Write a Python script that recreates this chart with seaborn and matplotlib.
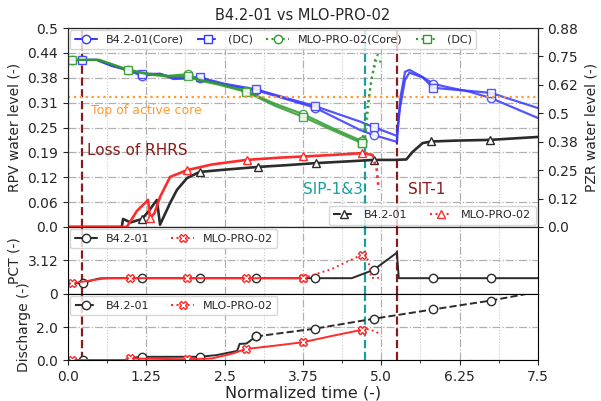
import numpy as np
import seaborn as sns
import matplotlib
matplotlib.use("Agg")
import matplotlib.pyplot as plt
from matplotlib.lines import Line2D
from matplotlib.ticker import MultipleLocator

# ---- data (normalized time / normalized values) ----
# RPV water level, B4.2-01
t_b_core = [0, 0.23, 0.46, 0.7, 0.94, 1.18, 1.47, 1.68, 2.1, 2.5, 3.0, 3.94, 4.66, 4.88, 5.25,
            5.3, 5.38, 5.45, 5.66, 5.83, 6.1, 6.41, 6.75, 7.5]
v_b_core = [0.42, 0.42, 0.42, 0.405, 0.395, 0.38, 0.385, 0.372, 0.374, 0.357, 0.344, 0.30, 0.244, 0.231, 0.214,
            0.32, 0.39, 0.395, 0.377, 0.36, 0.35, 0.34, 0.324, 0.274]
t_b_dc = [0, 0.23, 0.46, 0.7, 0.94, 1.18, 1.47, 1.68, 2.1, 2.5, 3.0, 3.94, 4.66, 4.88, 5.25,
          5.3, 5.38, 5.45, 5.66, 5.83, 6.1, 6.41, 6.75, 7.5]
v_b_dc = [0.42, 0.42, 0.42, 0.405, 0.395, 0.385, 0.385, 0.375, 0.376, 0.36, 0.346, 0.304, 0.265, 0.251, 0.229,
          0.30, 0.37, 0.388, 0.376, 0.35, 0.346, 0.342, 0.337, 0.299]
mark_b = [0.23, 1.18, 2.1, 3.0, 3.94, 4.88, 5.83, 6.75]

# RPV water level, MLO-PRO-02
t_m_core = [0, 0.06, 0.5, 0.96, 1.3, 1.6, 1.91, 2.1, 2.4, 2.84, 3.3, 3.75, 4.2, 4.69, 4.74, 4.82, 4.9, 5.0]
v_m_core = [0.42, 0.42, 0.42, 0.395, 0.385, 0.38, 0.384, 0.37, 0.36, 0.342, 0.31, 0.284, 0.25, 0.216,
            0.219, 0.344, 0.42, 0.415]
t_m_dc = [0, 0.06, 0.5, 0.96, 1.3, 1.6, 1.91, 2.1, 2.4, 2.84, 3.3, 3.75, 4.2, 4.69, 4.74, 4.85, 4.95]
v_m_dc = [0.42, 0.42, 0.42, 0.395, 0.383, 0.378, 0.38, 0.368, 0.358, 0.34, 0.305, 0.277, 0.245, 0.211,
          0.26, 0.377, 0.437]
mark_m = [0.06, 0.96, 1.91, 2.84, 3.75, 4.69]

# PZR water level
t_pzr_b = [0, 0.86, 0.88, 1.0, 1.18, 1.28, 1.42, 1.47, 1.63, 1.74, 1.9, 2.1, 2.5, 3.03, 3.5, 3.96,
           4.5, 4.88, 5.2, 5.4, 5.5, 5.66, 5.8, 6.2, 6.73, 7.5]
v_pzr_b = [0, 0, 0.035, 0.02, 0.035, 0.066, 0.119, 0.01, 0.105, 0.163, 0.215, 0.242, 0.252, 0.264, 0.272,
           0.281, 0.289, 0.295, 0.295, 0.297, 0.33, 0.369, 0.376, 0.38, 0.383, 0.396]
mark_pzr_b = [1.18, 2.1, 3.03, 3.96, 4.88, 5.8, 6.73]
t_pzr_m = [0, 0.94, 1.1, 1.28, 1.31, 1.38, 1.47, 1.63, 1.9, 2.3, 2.85, 3.38, 3.75, 4.3, 4.7, 4.86, 4.93, 4.96]
v_pzr_m = [0, 0, 0.07, 0.119, 0.04, 0.06, 0.132, 0.22, 0.25, 0.275, 0.295, 0.305, 0.31, 0.318, 0.325,
           0.317, 0.25, 0.163]
mark_pzr_m = [1.31, 1.9, 2.85, 3.75, 4.7]

# PCT
t_pct_b = [0, 0.24, 0.4, 0.51, 0.7, 1.18, 2.1, 3.0, 3.94, 4.53, 4.88, 5.25, 5.28, 5.82, 6.75, 7.5]
v_pct_b = [1.0, 1.0, 1.3, 1.45, 1.47, 1.47, 1.47, 1.47, 1.47, 1.47, 2.25, 3.85, 1.47, 1.47, 1.47, 1.47]
mark_pct_b = [0.24, 1.18, 2.1, 3.0, 3.94, 4.88, 5.82, 6.75]
t_pct_m = [0, 0.06, 0.3, 0.6, 0.99, 1.9, 2.84, 3.75, 4.2, 4.69, 4.74, 4.8, 4.84, 5.0]
v_pct_m = [1.0, 1.0, 1.2, 1.47, 1.47, 1.47, 1.47, 1.47, 2.3, 3.66, 3.75, 3.0, 1.5, 1.5]
mark_pct_m = [0.06, 0.99, 1.9, 2.84, 3.75, 4.69]

# Discharge
t_dis_b = [0, 0.24, 0.9, 1.05, 1.18, 2.1, 2.37, 2.63, 2.7, 2.74, 2.85, 3.0, 3.94, 4.88, 5.82, 6.75, 7.32]
v_dis_b = [0, 0, 0, 0.15, 0.2, 0.2, 0.3, 0.5, 0.55, 0.98, 1.0, 1.43, 1.9, 2.5, 3.06, 3.6, 4.0]
t_dis_m = [0, 0.06, 0.9, 0.99, 1.5, 1.9, 2.3, 2.63, 2.84, 3.3, 3.75, 4.2, 4.69, 4.75, 4.9, 5.0]
v_dis_m = [0, 0, 0, 0.1, 0.07, 0.05, 0.1, 0.4, 0.67, 0.87, 1.08, 1.45, 1.83, 1.9, 1.75, 1.53]

events = [(0.22, "Loss of RHRS"), (4.74, "SIP-1&3"), (5.25, "SIT-1")]
core_top = 0.327

BLUE = "#3838ff"
GREEN = "#2f9a2f"
RED = "#ff2a2a"
BLACK = "#2b2b2b"
DRED = "#8b1a1a"
TEAL = "#1a9e9e"
ORANGE = "#ff9a2e"


def series(ax, t, v, mark_t, color, marker, ls="-", split=None, ls2=":", ms=6, lw=1.4, alpha=1.0):
    t = np.asarray(t, float)
    v = np.asarray(v, float)
    if split is None:
        parts = [(0, len(t), ls)]
    else:
        parts = [(0, split + 1, ls), (split, len(t), ls2)]
    for a, b, style in parts:
        tt, vv = t[a:b], v[a:b]
        idx = [int(i) for i in np.flatnonzero(np.isin(np.round(tt, 3), mark_t))]
        kw = dict(marker=marker, markevery=idx) if idx else {}
        sns.lineplot(x=tt, y=vv, ax=ax, color=color, linestyle=style, linewidth=lw, alpha=alpha,
                     markersize=ms, markerfacecolor="white", markeredgecolor=color,
                     markeredgewidth=1.0, estimator=None, sort=False, **kw)


def handle(color, ls, marker):
    return Line2D([], [], color=color, ls=ls, marker=marker, markersize=6,
                  markerfacecolor="white", markeredgecolor=color, markeredgewidth=1.0)


sns.set_style("ticks")
plt.rcParams["font.family"] = ["DejaVu Sans"]

fig = plt.figure(figsize=(6.01, 4.01), dpi=100)
ax1 = fig.add_axes([0.113, 0.434, 0.782, 0.496])
ax2 = fig.add_axes([0.113, 0.267, 0.782, 0.167], sharex=ax1)
ax3 = fig.add_axes([0.113, 0.102, 0.782, 0.165], sharex=ax1)
ax1r = ax1.twinx()

# top panel: RPV level (left) and PZR level (right)
series(ax1, t_b_core, v_b_core, mark_b, BLUE, "o", alpha=0.85, lw=1.6)
series(ax1, t_b_dc, v_b_dc, mark_b, BLUE, "s", alpha=0.85, lw=1.6)
series(ax1, t_m_core, v_m_core, mark_m, GREEN, "o", split=13, alpha=0.85, lw=1.6)
series(ax1, t_m_dc, v_m_dc, mark_m, GREEN, "s", split=13, alpha=0.85, lw=1.6)
ax1.axhline(core_top, color=ORANGE, ls=":", lw=1.6)
ax1.text(0.37, 0.293, "Top of active core", color=ORANGE, fontsize=9, va="center")

series(ax1r, t_pzr_b, v_pzr_b, mark_pzr_b, BLACK, "^", ms=5.5, lw=1.9)
series(ax1r, t_pzr_m, v_pzr_m, mark_pzr_m, RED, "^", split=15, ms=5.5, lw=1.9)

for ax in (ax1, ax2, ax3):
    for x, name in events:
        ax.axvline(x, color=TEAL if name.startswith("SIP") else DRED, ls="--", lw=1.6, zorder=1)
ax1.text(0.30, 0.193, "Loss of RHRS", color=DRED, fontsize=11, va="center")
ax1.text(3.75, 0.093, "SIP-1&3", color=TEAL, fontsize=11, va="center")
ax1.text(5.42, 0.093, "SIT-1", color=DRED, fontsize=11, va="center")

# PCT
series(ax2, t_pct_b, v_pct_b, mark_pct_b, BLACK, "o")
series(ax2, t_pct_m, v_pct_m, mark_pct_m, RED, "X", split=7)

# Discharge
series(ax3, t_dis_b, v_dis_b, mark_pct_b, BLACK, "o", split=11, ls2="--")
series(ax3, t_dis_m, v_dis_m, mark_pct_m, RED, "X", split=12)

# axes formatting
yt1 = np.linspace(0, 0.5, 9)
ax1.set_ylim(0, 0.5)
ax1.set_yticks(yt1)
ax1.set_yticklabels([str(round(y, 2)) for y in yt1])
yt1r = np.linspace(0, 0.875, 8)
ax1r.set_ylim(0, 0.875)
ax1r.set_yticks(yt1r)
ax1r.set_yticklabels([str(round(y, 2)) for y in yt1r])
ax1.set_ylabel("RPV water level (-)")
ax1r.set_ylabel("PZR water level (-)")
ax1.set_title("B4.2-01 vs MLO-PRO-02", fontsize=10.5)

ax2.set_ylim(0, 6.25)
ax2.set_yticks([0, 3.125])
ax2.set_yticklabels([str(round(y, 2)) for y in [0, 3.125]])
ax2.set_ylabel("PCT (-)")

ax3.set_ylim(0, 4)
ax3.set_yticks([0, 2.0])
ax3.set_yticklabels(["0.0", "2.0"])
ax3.set_ylabel("Discharge (-)")

xt = np.linspace(0, 7.5, 7)
ax3.set_xlim(0, 7.5)
ax3.set_xticks(xt)
ax3.set_xticklabels([str(round(x, 2)) for x in xt])
ax3.set_xlabel("Normalized time (-)", fontsize=11.5, labelpad=1)

for ax in (ax1, ax2, ax3):
    ax.xaxis.set_minor_locator(MultipleLocator(0.625))
    ax.grid(which="major", color="#b0b0b0", ls="-.", lw=0.9)
    ax.grid(which="minor", axis="x", color="#c8c8c8", ls=":", lw=0.8)
    ax.set_axisbelow(True)
    for s in ax.spines.values():
        s.set_visible(True)
        s.set_color("black")
for ax in (ax1, ax2):
    ax.tick_params(labelbottom=False)
    ax.set_xlabel("")
ax1r.grid(False)

ax1.legend(handles=[handle(BLUE, "-", "o"), handle(BLUE, "--", "s"),
                    handle(GREEN, ":", "o"), handle(GREEN, ":", "s")],
           labels=["B4.2-01(Core)", "(DC)", "MLO-PRO-02(Core)", "(DC)"],
           ncol=4, loc="upper left", fontsize=8, borderaxespad=0.2, columnspacing=1.2)
ax1r.legend(handles=[handle(BLACK, "--", "^"), handle(RED, ":", "^")],
            labels=["B4.2-01", "MLO-PRO-02"], ncol=2, loc="lower right", fontsize=8,
            borderaxespad=0.2, columnspacing=2.0)
ax2.legend(handles=[handle(BLACK, "-", "o"), handle(RED, ":", "X")],
           labels=["B4.2-01", "MLO-PRO-02"], ncol=2, loc="upper left", fontsize=8,
           borderaxespad=0.2, columnspacing=2.0)
ax3.legend(handles=[handle(BLACK, "--", "o"), handle(RED, ":", "X")],
           labels=["B4.2-01", "MLO-PRO-02"], ncol=2, loc="upper left", fontsize=8,
           borderaxespad=0.2, columnspacing=2.0)

fig.savefig("out.png", dpi=100)
